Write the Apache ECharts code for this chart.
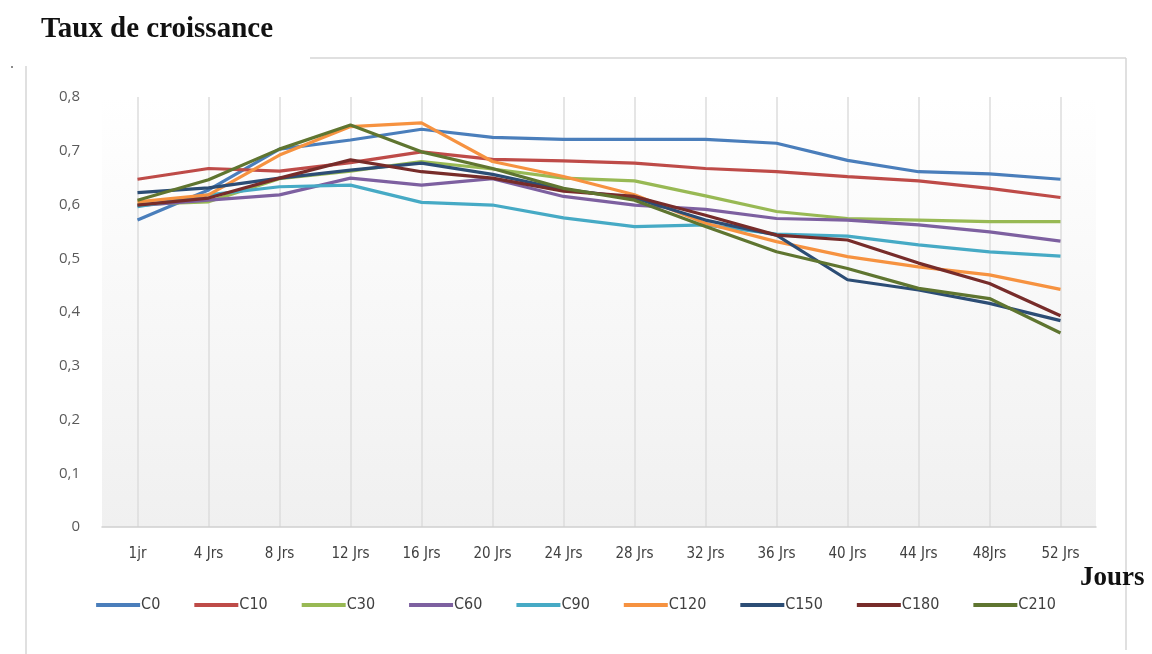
<!DOCTYPE html>
<html>
<head>
<meta charset="utf-8">
<script src="https://cdn.jsdelivr.net/npm/echarts@6/dist/echarts.min.js"></script>
<style>
  html, body { margin: 0; padding: 0; background: #fff; }
  #chart { width: 1152px; height: 654px; }
</style>
</head>
<body>
<div id="chart"></div>
<script>
  // categories (x axis)
  var jours = ['1jr', '4 Jrs', '8 Jrs', '12 Jrs', '16 Jrs', '20 Jrs', '24 Jrs', '28 Jrs', '32 Jrs', '36 Jrs', '40 Jrs', '44 Jrs', '48Jrs', '52 Jrs'];
  var yTicks = [0, 0.1, 0.2, 0.3, 0.4, 0.5, 0.6, 0.7, 0.8];

  // series values
  var c0   = [0.571, 0.627, 0.703, 0.720, 0.740, 0.725, 0.721, 0.721, 0.721, 0.714, 0.682, 0.661, 0.657, 0.647];
  var c10  = [0.647, 0.667, 0.662, 0.678, 0.698, 0.684, 0.681, 0.677, 0.667, 0.661, 0.652, 0.644, 0.630, 0.613];
  var c30  = [0.600, 0.605, 0.648, 0.662, 0.680, 0.666, 0.649, 0.644, 0.616, 0.587, 0.574, 0.571, 0.568, 0.568];
  var c60  = [0.598, 0.608, 0.618, 0.649, 0.636, 0.648, 0.615, 0.599, 0.591, 0.574, 0.571, 0.562, 0.549, 0.532];
  var c90  = [0.596, 0.618, 0.633, 0.636, 0.604, 0.599, 0.575, 0.559, 0.562, 0.545, 0.541, 0.525, 0.512, 0.504];
  var c120 = [0.605, 0.618, 0.692, 0.745, 0.752, 0.680, 0.652, 0.618, 0.565, 0.531, 0.503, 0.484, 0.469, 0.442];
  var c150 = [0.622, 0.631, 0.649, 0.664, 0.677, 0.656, 0.628, 0.612, 0.571, 0.543, 0.460, 0.441, 0.416, 0.384];
  var c180 = [0.599, 0.612, 0.649, 0.683, 0.661, 0.649, 0.625, 0.615, 0.580, 0.543, 0.534, 0.491, 0.453, 0.393];
  var c210 = [0.608, 0.646, 0.703, 0.748, 0.698, 0.667, 0.630, 0.608, 0.559, 0.512, 0.481, 0.444, 0.425, 0.361];

  var names  = ['C0', 'C10', 'C30', 'C60', 'C90', 'C120', 'C150', 'C180', 'C210'];
  var values = [c0, c10, c30, c60, c90, c120, c150, c180, c210];
  var colors = ['#4a7ebb', '#be4b48', '#98b954', '#7d60a0', '#46aac5', '#f69240', '#2c4d75', '#772c2a', '#5f7530'];

  var chart = echarts.init(document.getElementById('chart'));

  var series = names.map(function (n, i) {
    return {
      name: n,
      type: 'line',
      data: values[i],
      symbol: 'none',
      lineStyle: { width: 3.2, color: colors[i] },
      itemStyle: { color: colors[i] },
      z: 2 + i
    };
  });

  var option = {
    animation: false,
    backgroundColor: '#fff',
    title: {
      text: 'Taux de croissance',
      left: 36,
      top: 10,
      textStyle: { fontFamily: 'Liberation Serif', fontWeight: 'bold', fontSize: 29, color: '#111' }
    },
    legend: {
      data: names,
      bottom: 36,
      left: 'center',
      itemWidth: 44,
      itemHeight: 4,
      itemGap: 34,
      icon: 'rect',
      textStyle: { fontFamily: 'DejaVu Sans Condensed', fontSize: 16, color: '#404040', padding: [0, 0, 0, -4] }
    },
    grid: {
      left: 102,
      right: 56,
      top: 97,
      bottom: 127,
      show: true,
      borderWidth: 0,
      backgroundColor: new echarts.graphic.LinearGradient(0, 0, 0, 1, [
        { offset: 0, color: '#ffffff' },
        { offset: 1, color: '#f0f0f0' }
      ])
    },
    xAxis: {
      type: 'category',
      data: jours,
      boundaryGap: true,
      axisLine: { lineStyle: { color: '#d0d0d0', width: 1.5 } },
      axisTick: { show: false },
      axisLabel: { margin: 20, fontFamily: 'DejaVu Sans Condensed', fontSize: 15, color: '#404040' },
      splitLine: { show: true, alignWithLabel: true, lineStyle: { color: '#dcdcdc', width: 1.5 } }
    },
    yAxis: {
      type: 'value',
      min: yTicks[0],
      max: yTicks[yTicks.length - 1],
      interval: 0.1,
      axisLine: { show: false },
      axisTick: { show: false },
      splitLine: { show: false },
      axisLabel: {
        margin: 22,
        fontFamily: 'Open Sans',
        fontSize: 15,
        color: '#5a5a5a',
        formatter: function (v) { return v === 0 ? '0' : v.toFixed(1).replace('.', ','); }
      }
    },
    graphic: [
      { type: 'line', shape: { x1: 26, y1: 66, x2: 26, y2: 654 }, style: { stroke: '#d6d6d6', lineWidth: 1.5 } },
      { type: 'line', shape: { x1: 310, y1: 58, x2: 1126, y2: 58 }, style: { stroke: '#d6d6d6', lineWidth: 1.5 } },
      { type: 'line', shape: { x1: 1126, y1: 58, x2: 1126, y2: 650 }, style: { stroke: '#d6d6d6', lineWidth: 1.5 } },
      { type: 'circle', shape: { cx: 12, cy: 67, r: 1 }, style: { fill: '#666' } },
      {
        type: 'text',
        left: 1080,
        top: 565,
        style: { text: 'Jours', font: 'bold 27px "Liberation Serif"', fill: '#111' }
      }
    ],
    series: series
  };

  chart.setOption(option);
</script>
</body>
</html>
